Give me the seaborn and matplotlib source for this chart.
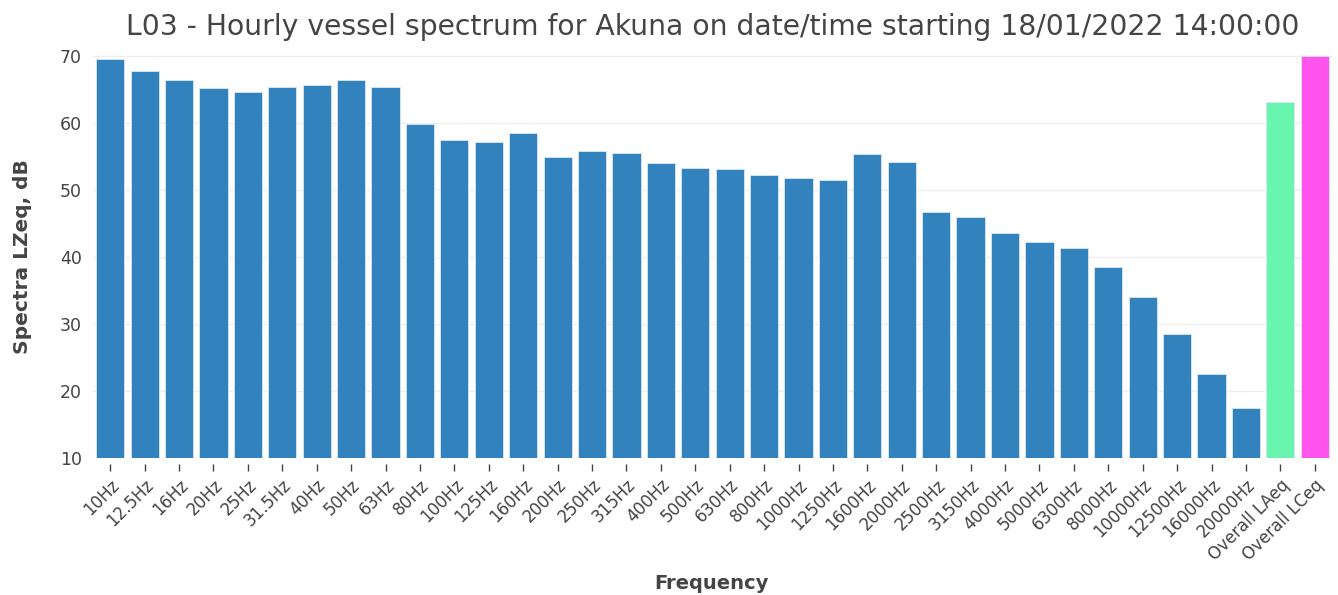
import matplotlib
matplotlib.use("Agg")
import matplotlib.pyplot as plt
import seaborn as sns

# ── Data ─────────────────────────────────────────────────
BANDS = ["10Hz", "12.5Hz", "16Hz", "20Hz", "25Hz", "31.5Hz", "40Hz", "50Hz", "63Hz",
         "80Hz", "100Hz", "125Hz", "160Hz", "200Hz", "250Hz", "315Hz", "400Hz", "500Hz",
         "630Hz", "800Hz", "1000Hz", "1250Hz", "1600Hz", "2000Hz", "2500Hz", "3150Hz",
         "4000Hz", "5000Hz", "6300Hz", "8000Hz", "10000Hz", "12500Hz", "16000Hz",
         "20000Hz"]
BAND_LEVELS = [69.6, 67.8, 66.4, 65.2, 64.6, 65.4, 65.7, 66.5, 65.4,
               59.9, 57.4, 57.2, 58.5, 54.9, 55.9, 55.5, 54.1, 53.3,
               53.1, 52.3, 51.8, 51.5, 55.4, 54.2, 46.7, 46.0,
               43.6, 42.2, 41.4, 38.5, 34.0, 28.5, 22.5, 17.5]
OVERALL = ["Overall LAeq", "Overall LCeq"]
OVERALL_LEVELS = [63.1, 70.0]

BLUE = "#3182BD"
GREEN = "#69F5AE"
MAGENTA = "#FF55EE"
TXT = "#444444"

labels = BANDS + OVERALL
levels = BAND_LEVELS + OVERALL_LEVELS
colors = [BLUE] * len(BANDS) + [GREEN, MAGENTA]

sns.set_style("white")
plt.rcParams["font.family"] = ["DejaVu Sans"]

fig = plt.figure(figsize=(13.38, 5.95), dpi=100)
ax = fig.add_axes([0.0695, 0.2303, 0.926, 0.6777])

sns.barplot(x=labels, y=levels, hue=labels, palette=colors, legend=False,
            width=0.82, edgecolor="#DCE8F2", linewidth=0.6, saturation=1, ax=ax)

ax.set_ylim(10, 70.2)
ax.set_xlim(-0.5, len(labels) - 0.5)
ax.set_yticks([10, 20, 30, 40, 50, 60, 70])
ax.yaxis.grid(True, color="#EEEEEE", linewidth=1)
ax.set_axisbelow(True)
for s in ax.spines.values():
    s.set_visible(False)
ax.spines["bottom"].set_position(("outward", 4))

ax.tick_params(axis="y", length=0, labelsize=12.5, labelcolor=TXT, pad=8)
ax.tick_params(axis="x", bottom=True, length=5, width=1, color=TXT,
               labelsize=12, labelcolor=TXT, pad=4)
plt.setp(ax.get_xticklabels(), rotation=45, ha="right", rotation_mode="anchor")

ax.set_title("L03 - Hourly vessel spectrum for Akuna on date/time starting 18/01/2022 14:00:00",
             fontsize=20.3, color=TXT, pad=14)
ax.set_ylabel("Spectra LZeq, dB", fontsize=14.5, fontweight="bold", color=TXT, labelpad=20)
ax.set_xlabel("")
fig.text(0.532, 0.019, "Frequency", fontsize=14, fontweight="bold", color=TXT,
         ha="center", va="center")

fig.savefig("out.png", dpi=100)
plt.close(fig)
